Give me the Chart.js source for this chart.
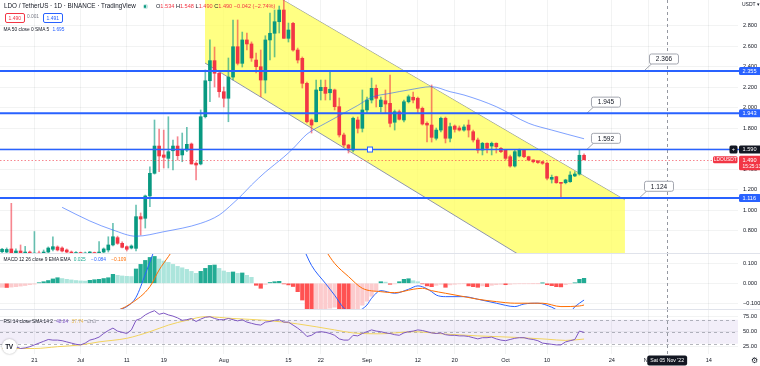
<!DOCTYPE html>
<html>
<head>
<meta charset="utf-8">
<title>LDO / TetherUS · 1D</title>
<script src="https://cdn.jsdelivr.net/npm/chart.js@4.4.1/dist/chart.umd.min.js"></script>
<style>
  html, body { margin: 0; padding: 0; background: #fff; }
  #wrap { position: relative; width: 760px; height: 366px; overflow: hidden;
          font-family: 'Liberation Sans', Arial, sans-serif; color: #131722; }
  #wrap canvas { position: absolute; left: 0; }
  .lg { position: absolute; white-space: nowrap; line-height: 1; }
  .dn { color: #F23645; }
  .bx { font-size: 5px; border: 1px solid; border-radius: 2px; padding: 1.5px 2.5px; background: #fff; }
  .sep { position: absolute; left: 0; width: 760px; height: 1px; background: #e0e3eb; }
</style>
</head>
<body>
<div id="wrap">
  <canvas id="priceCanvas" width="760" height="253" style="top:0"></canvas>
  <canvas id="macdCanvas" width="760" height="56" style="top:253px"></canvas>
  <canvas id="rsiCanvas" width="760" height="57" style="top:309px"></canvas>
  <div class="sep" style="top:253px"></div>
  <div class="sep" style="top:309px"></div>

  <div class="lg" style="left:4px;top:3px;font-size:6.3px">LDO / TetherUS · 1D · BINANCE · TradingView</div>
  <div style="position:absolute;left:142.5px;top:4px;width:5px;height:5px;border-radius:50%;background:rgba(8,153,129,0.25)">
    <div style="margin:1.2px;width:2.6px;height:2.6px;border-radius:50%;background:#089981"></div>
  </div>
  <div class="lg" style="left:156px;top:3.5px;font-size:5.6px">O<span class="dn">1.534</span> H<span class="dn">1.548</span> L<span class="dn">1.490</span> C<span class="dn">1.490</span> <span class="dn">−0.042 (−2.74%)</span></div>
  <div class="lg bx" style="left:5px;top:13px;border-color:#F23645;color:#F23645">1.490</div>
  <div class="lg" style="left:27px;top:15px;font-size:4.8px;color:#787b86">0.001</div>
  <div class="lg bx" style="left:43px;top:13px;border-color:#2962FF;color:#2962FF">1.491</div>
  <div class="lg" style="left:3.5px;top:27.5px;font-size:4.8px">MA 50 close 0 SMA 5 <span style="color:#2962FF;margin-left:2px">1.695</span></div>
  <div class="lg" style="left:742px;top:2px;font-size:5px">USDT ▾</div>

  <div class="lg" style="left:3.5px;top:257.6px;font-size:4.8px">MACD 12 26 close 9 EMA EMA <span style="color:#22AB94;margin-left:2px">0.025</span> <span style="color:#2962FF;margin-left:4px">−0.084</span> <span style="color:#FF6D00;margin-left:4px">−0.109</span></div>
  <div class="lg" style="left:3.5px;top:320.3px;font-size:4.8px">RSI 14 close SMA 14 2 <span style="color:#7E57C2;margin-left:2px">48.84</span> <span style="color:#E9B949;margin-left:2px">37.74</span> <span style="color:#787b86;margin-left:2px">∅ ∅</span></div>

  <div style="position:absolute;left:1.5px;top:338.5px;width:15px;height:15px;border-radius:50%;background:#fff;box-shadow:0 0 2px rgba(0,0,0,0.35);font:bold 6.5px 'Liberation Sans',Arial,sans-serif;line-height:15px;text-align:center;letter-spacing:-0.5px">TV</div>
  <div class="lg" style="left:751px;top:356.5px;font-size:8px;color:#131722">⚙</div>
</div>

<script>
// Days are counted from 1 Jul 2022 (day 0); the first candle is 14 Jun 2022.
const FIRST_DAY = -17;

const candleOpen = [
  0.593, 0.590, 0.620, 0.580, 0.600, 0.570, 0.590, 0.560, 0.580, 0.570,
  0.590, 0.617, 0.639, 0.629, 0.610, 0.590, 0.570, 0.585, 0.565, 0.580,
  0.585, 0.575, 0.590, 0.610, 0.659, 0.730, 0.675, 0.642, 0.629, 0.626,
  0.935, 0.919, 1.137, 1.358, 1.624, 1.537, 1.504, 1.578, 1.624, 1.537,
  1.585, 1.644, 1.456, 1.449, 1.910, 2.261, 2.457, 2.334, 2.154, 2.090,
  2.297, 2.593, 2.431, 2.659, 2.620, 2.463, 2.398, 2.268, 2.659, 2.724,
  2.837, 2.951, 2.675, 2.821, 2.561, 2.480, 2.236, 1.878, 1.861, 2.164,
  2.197, 2.144, 2.171, 2.008, 1.732, 1.634, 1.585, 1.878, 1.797, 1.976,
  2.073, 2.187, 2.008, 2.066, 2.041, 1.856, 1.959, 1.878, 2.056, 2.100,
  2.090, 1.992, 1.846, 1.829, 1.700, 1.780, 1.895, 1.700, 1.819, 1.800,
  1.780, 1.829, 1.764, 1.683, 1.585, 1.651, 1.624, 1.651, 1.602, 1.585,
  1.520, 1.429, 1.527, 1.585, 1.520, 1.488, 1.478, 1.471, 1.456, 1.300,
  1.325, 1.266, 1.266, 1.276, 1.332, 1.351, 1.534
];
const candleHigh = [
  0.625, 0.630, 1.065, 0.620, 0.659, 0.645, 0.600, 0.790, 0.600, 0.610,
  0.640, 0.739, 0.650, 0.640, 0.620, 0.600, 0.595, 0.590, 0.590, 0.595,
  0.590, 0.691, 0.630, 0.739, 0.870, 0.745, 0.690, 0.650, 0.660, 1.049,
  0.971, 1.146, 1.422, 1.878, 1.790, 1.780, 1.910, 1.683, 1.715, 1.751,
  1.807, 1.654, 1.470, 1.976, 2.366, 2.659, 2.590, 2.346, 2.200, 2.483,
  2.854, 2.854, 2.736, 2.727, 2.640, 2.532, 2.561, 2.700, 2.922, 2.951,
  2.990, 3.080, 2.824, 2.830, 2.580, 2.493, 2.249, 1.890, 2.268, 2.268,
  2.268, 2.346, 2.180, 2.093, 1.751, 1.640, 1.907, 1.907, 2.171, 2.102,
  2.288, 2.220, 2.102, 2.171, 2.317, 1.976, 1.976, 2.073, 2.122, 2.151,
  2.102, 2.005, 1.859, 2.220, 1.800, 1.907, 1.907, 1.849, 1.830, 1.820,
  1.830, 1.878, 1.780, 1.702, 1.660, 1.655, 1.663, 1.655, 1.610, 1.590,
  1.537, 1.585, 1.595, 1.590, 1.525, 1.490, 1.485, 1.475, 1.468, 1.341,
  1.330, 1.270, 1.300, 1.374, 1.374, 1.592, 1.548
];
const candleLow = [
  0.560, 0.570, 0.550, 0.560, 0.550, 0.550, 0.540, 0.540, 0.550, 0.560,
  0.570, 0.600, 0.600, 0.590, 0.580, 0.550, 0.560, 0.550, 0.550, 0.570,
  0.560, 0.560, 0.580, 0.590, 0.650, 0.665, 0.630, 0.600, 0.620, 0.600,
  0.756, 0.824, 1.032, 1.350, 1.374, 1.410, 1.410, 1.390, 1.488, 1.471,
  1.569, 1.449, 1.293, 1.440, 1.898, 2.056, 2.200, 2.102, 2.005, 1.861,
  2.268, 2.415, 2.395, 2.561, 2.450, 2.337, 2.105, 2.141, 2.463, 2.493,
  2.727, 2.675, 2.639, 2.550, 2.434, 2.190, 1.849, 1.751, 1.859, 2.073,
  2.073, 2.073, 1.976, 1.712, 1.615, 1.556, 1.566, 1.751, 1.761, 1.946,
  2.044, 2.005, 1.956, 1.946, 1.810, 1.780, 1.878, 1.859, 2.044, 2.044,
  1.946, 1.829, 1.663, 1.663, 1.683, 1.761, 1.654, 1.663, 1.760, 1.770,
  1.770, 1.712, 1.663, 1.556, 1.537, 1.556, 1.537, 1.556, 1.560, 1.488,
  1.419, 1.419, 1.517, 1.510, 1.480, 1.460, 1.455, 1.445, 1.293, 1.263,
  1.260, 1.117, 1.255, 1.270, 1.325, 1.340, 1.490
];
const candleClose = [
  0.617, 0.615, 0.580, 0.600, 0.570, 0.590, 0.560, 0.580, 0.570, 0.590,
  0.629, 0.642, 0.610, 0.600, 0.590, 0.570, 0.585, 0.565, 0.580, 0.585,
  0.575, 0.590, 0.620, 0.659, 0.739, 0.675, 0.636, 0.617, 0.649, 0.935,
  0.912, 1.137, 1.358, 1.624, 1.527, 1.514, 1.569, 1.624, 1.530, 1.585,
  1.641, 1.449, 1.439, 1.910, 2.261, 2.457, 2.334, 2.154, 2.090, 2.297,
  2.593, 2.431, 2.659, 2.620, 2.483, 2.398, 2.268, 2.659, 2.724, 2.837,
  2.951, 2.675, 2.756, 2.561, 2.463, 2.236, 1.861, 1.829, 2.171, 2.197,
  2.138, 2.178, 2.008, 1.732, 1.634, 1.602, 1.895, 1.797, 1.976, 2.073,
  2.187, 2.090, 2.073, 2.034, 1.846, 1.959, 1.885, 2.056, 2.105, 2.073,
  1.992, 1.839, 1.829, 1.709, 1.780, 1.895, 1.700, 1.813, 1.787, 1.780,
  1.810, 1.780, 1.683, 1.585, 1.651, 1.602, 1.651, 1.617, 1.569, 1.504,
  1.429, 1.569, 1.585, 1.520, 1.488, 1.471, 1.463, 1.456, 1.310, 1.319,
  1.266, 1.260, 1.293, 1.341, 1.351, 1.534, 1.490
];

// MA 50
const maDays   = [-4, 2, 7, 12, 18, 26, 30, 33, 35, 37, 40, 44, 46, 49, 53, 56, 60, 63, 67, 71, 76, 80, 83, 90, 97, 102, 109];
const maValues = [1.026, 0.893, 0.805, 0.744, 0.788, 0.870, 0.951, 1.065, 1.150, 1.244, 1.370, 1.517, 1.600, 1.740, 1.846, 1.920, 2.020, 2.100, 2.138, 2.171, 2.203, 2.154, 2.122, 2.008, 1.846, 1.780, 1.695];

// MACD 12 26 9
const macdHist = [
  -0.020, -0.021, -0.019, -0.017, -0.014, -0.011, -0.007, -0.004, 0.003, 0.008,
  0.014, 0.022, 0.028, 0.024, 0.020, 0.017, 0.014, 0.012, 0.011, 0.015,
  0.018, 0.020, 0.024, 0.028, 0.045, 0.040, 0.037, 0.035, 0.034, 0.072,
  0.095, 0.115, 0.130, 0.135, 0.122, 0.112, 0.105, 0.095, 0.085, 0.078,
  0.070, 0.060, 0.050, 0.060, 0.075, 0.090, 0.092, 0.075, 0.062, 0.055,
  0.057, 0.050, 0.052, 0.040, 0.030, -0.010, -0.025, -0.006, 0.004, 0.008,
  0.010, -0.003, -0.008, -0.016, -0.042, -0.084, -0.150, -0.160, -0.155, -0.145,
  -0.135, -0.125, -0.120, -0.150, -0.160, -0.165, -0.150, -0.130, -0.110, -0.090,
  -0.065, -0.040, 0.008, 0.006, -0.005, -0.003, 0.008, 0.020, 0.023, 0.013,
  0.008, -0.003, -0.013, -0.017, -0.010, -0.005, -0.020, -0.008, -0.005, -0.003,
  -0.002, -0.013, -0.017, -0.020, -0.013, -0.017, -0.010, -0.007, -0.005, -0.007,
  -0.005, -0.003, -0.002, -0.002, -0.002, -0.001, -0.001, 0.001, -0.007, -0.012,
  -0.017, -0.018, -0.007, -0.002, 0.002, 0.020, 0.025
];
const macdDays   = [1, 3, 6, 10, 12, 14, 16, 18, 30, 46, 48, 50, 53, 55, 57, 59, 60, 62, 63, 65, 68, 71, 73, 74, 76, 77, 79, 83, 86, 90, 94, 96, 99, 102, 104, 106, 107, 108, 109];
const macdValues = [-0.210, -0.165, -0.142, -0.117, -0.070, 0.045, 0.170, 0.300, 0.450, 0.300, 0.190, 0.090, 0.000, -0.060, -0.125, -0.151, -0.142, -0.109, -0.075, -0.037, -0.050, -0.030, -0.013, -0.017, -0.042, -0.059, -0.067, -0.067, -0.080, -0.100, -0.117, -0.104, -0.100, -0.120, -0.142, -0.142, -0.118, -0.100, -0.084];
const signalDays   = [4, 6, 11, 15, 17, 19, 20, 22, 35, 50, 53, 55, 58, 61, 65, 68, 72, 74, 76, 79, 83, 86, 90, 94, 97, 100, 104, 108, 109];
const signalValues = [-0.190, -0.160, -0.100, -0.017, 0.067, 0.134, 0.167, 0.220, 0.400, 0.280, 0.167, 0.100, 0.034, -0.025, -0.042, -0.047, -0.030, -0.025, -0.037, -0.050, -0.067, -0.080, -0.092, -0.100, -0.100, -0.100, -0.117, -0.114, -0.109];

// RSI 14 with SMA 14
const rsiValues = [
  25, 26, 28, 25, 22, 23, 25, 28, 31, 34,
  37, 36, 36, 35, 33, 31, 29, 28, 31, 36,
  38, 41, 47, 52, 56, 51, 49, 47, 53, 69,
  72, 78, 82, 85, 79, 81, 78, 76, 73, 69,
  70, 72, 67, 71, 74, 75, 72, 70, 70, 72,
  70, 68, 70, 66, 64, 62, 61, 66, 67, 69,
  70, 66, 66, 61, 56, 50, 42, 44, 49, 50,
  49, 47, 44, 38, 36, 36, 44, 43, 47, 50,
  53, 51, 50, 48, 47, 45, 44, 48, 50, 51,
  53, 52, 50, 48, 47, 48, 45, 44, 44, 43,
  43, 42, 40, 38, 40, 40, 41, 38, 36, 35,
  37, 39, 40, 40, 38, 37, 35, 31, 30, 29,
  28, 28, 33, 35, 37, 51, 48.84
];
const rsiSmaDays   = [-17, -10, -5, 0, 4, 10, 15, 19, 23, 27, 33, 40, 47, 55, 59, 65, 72, 79, 86, 94, 101, 105, 109];
const rsiSmaValues = [22, 22, 25, 28, 33, 39, 50, 61, 69, 75, 72, 69, 63, 53, 48, 46.5, 50, 46, 43, 40.6, 37.5, 35.5, 37.74];
const rsiBandLevels = [70, 50, 30];

// Drawings
const channelDays  = [26.93, 117.85];
const channelUpper = [3.494, 1.098];
const channelLower = [2.434, -0.067];
const hLevels = [2.355, 1.943, 1.590, 1.116];
const SELECTED_LEVEL = 2;           // the 1.590 line carries the handle and "+" button
const selectedHandleDay = 62.65;
const calloutDays   = [122.19, 109.63, 109.63, 121.11];
const calloutValues = [2.366, 1.945, 1.592, 1.124];
const lastPrice = 1.490;
const countdown = '15:25:13';

// Axes
const priceTicks = [0.8, 1.0, 1.2, 1.4, 1.6, 1.8, 2.0, 2.2, 2.4, 2.6, 2.8];
const macdTicks = [-0.1, 0, 0.1];
const rsiTicks = [25, 50, 75];
const tickDays   = [-10, 0, 10, 18, 31, 45, 52, 62, 73, 81, 92, 101, 115, 123, 136];
const tickLabels = ['21', 'Jul', '11', '19', 'Aug', '15', '22', 'Sep', '12', '20', 'Oct', '10', '24', 'Nov', '14'];
const crosshairDay = 127;
const crosshairLabel = "Sat 05 Nov '22";

[candleHigh, candleLow, candleClose, macdHist, rsiValues].forEach(a => {
  if (a.length !== candleOpen.length) throw new Error('series length mismatch: ' + a.length);
});

// ---- styling ----
const BLUE = '#2962FF';
const UP = '#089981', DOWN = '#F23645';
const UP_WICK = 'rgba(8,153,129,0.6)', DOWN_WICK = 'rgba(242,54,69,0.6)';
const GRID = 'rgba(42,46,57,0.06)';
const TEXT = '#131722';
const FONT = "'Liberation Sans', Arial, sans-serif";
const X_MIN = -17.45, X_MAX = 142.33;
const PRICE_MIN = 0.5805, PRICE_MAX = 3.0488;
const MACD_MIN = -0.1291, MACD_MAX = 0.1523;
const RSI_MIN = 12.83, RSI_MAX = 87.83;

Chart.defaults.font.family = FONT;
Chart.defaults.animation = false;

const minus = s => s.replace('-', '\u2212');

function xScale(showLabels) {
  return {
    type: 'linear', min: X_MIN, max: X_MAX, offset: false,
    afterBuildTicks: s => { s.ticks = tickDays.map(v => ({ value: v })); },
    afterFit: s => { s.height = showLabels ? 12 : 0; s.paddingLeft = 0; s.paddingRight = 0; },
    grid: { color: GRID, drawTicks: false, offset: false },
    border: { display: false },
    ticks: {
      display: showLabels, autoSkip: false, maxRotation: 0, padding: 3,
      color: TEXT, font: { size: 5.6 },
      callback: (v, i) => tickLabels[i]
    }
  };
}

function yScale(min, max, ticks, fmt) {
  return {
    type: 'linear', position: 'right', min: min, max: max,
    afterBuildTicks: s => { s.ticks = ticks.map(v => ({ value: v })); },
    afterFit: s => { s.width = 22; s.paddingTop = 0; s.paddingBottom = 0; },
    grid: { color: GRID, drawTicks: false },
    border: { display: false },
    ticks: { padding: 5, color: TEXT, font: { size: 5.6 }, callback: fmt }
  };
}

function roundRect(ctx, x, y, w, h, r) {
  ctx.beginPath();
  ctx.moveTo(x + r, y);
  ctx.arcTo(x + w, y, x + w, y + h, r);
  ctx.arcTo(x + w, y + h, x, y + h, r);
  ctx.arcTo(x, y + h, x, y, r);
  ctx.arcTo(x, y, x + w, y, r);
  ctx.closePath();
}

function hline(ctx, x0, x1, y) {
  ctx.beginPath(); ctx.moveTo(x0, y); ctx.lineTo(x1, y); ctx.stroke();
}

// dashed vertical crosshair, shared by all panes
const crosshair = {
  id: 'crosshair',
  afterDatasetsDraw(chart) {
    const { ctx, chartArea: a, scales: { x } } = chart;
    const cx = Math.round(x.getPixelForValue(crosshairDay)) + 0.5;
    ctx.save();
    ctx.strokeStyle = '#9598a1';
    ctx.lineWidth = 1;
    ctx.setLineDash([3, 3]);
    ctx.beginPath(); ctx.moveTo(cx, a.top); ctx.lineTo(cx, a.bottom); ctx.stroke();
    ctx.restore();
  }
};

// horizontal lines, callouts and price-scale labels
const priceDrawings = {
  id: 'priceDrawings',
  afterDatasetsDraw(chart) {
    const { ctx, chartArea: a, scales: { x, y } } = chart;
    ctx.save();
    // last price line
    ctx.strokeStyle = 'rgba(242,54,69,0.6)';
    ctx.lineWidth = 1;
    ctx.setLineDash([1.5, 2]);
    hline(ctx, a.left, a.right, Math.round(y.getPixelForValue(lastPrice)) + 0.5);
    ctx.setLineDash([]);

    // callouts
    ctx.font = '6.5px ' + FONT;
    ctx.textAlign = 'center';
    ctx.textBaseline = 'middle';
    calloutValues.forEach((v, i) => {
      const ax = x.getPixelForValue(calloutDays[i]);
      const ay = y.getPixelForValue(v);
      const bw = 29, bh = 10, bx = ax + 4, by = ay - 6.5 - bh;
      ctx.strokeStyle = '#a3a6af';
      ctx.lineWidth = 1;
      ctx.beginPath(); ctx.moveTo(ax, ay); ctx.lineTo(ax + 7, ay - 6.5); ctx.stroke();
      ctx.fillStyle = '#fff';
      roundRect(ctx, bx + 0.5, by + 0.5, bw, bh, 2);
      ctx.fill(); ctx.stroke();
      ctx.fillStyle = TEXT;
      ctx.fillText(v.toFixed(3), bx + bw / 2 + 0.5, by + bh / 2 + 1);
    });
    ctx.restore();
  },
  afterDraw(chart) {
    const { ctx, chartArea: a, scales: { x, y } } = chart;
    ctx.save();
    // horizontal line drawings run up to the price scale
    hLevels.forEach((v, i) => {
      ctx.strokeStyle = BLUE;
      ctx.lineWidth = i === SELECTED_LEVEL ? 1.5 : 2;
      hline(ctx, 0, a.right + 1, y.getPixelForValue(v));
    });
    // handle square on the selected line
    const hx = x.getPixelForValue(selectedHandleDay);
    const hy = y.getPixelForValue(hLevels[SELECTED_LEVEL]);
    ctx.fillStyle = '#fff';
    ctx.strokeStyle = BLUE;
    ctx.lineWidth = 1;
    ctx.fillRect(hx - 2.5, hy - 2.5, 5, 5);
    ctx.strokeRect(hx - 2.5, hy - 2.5, 5, 5);

    ctx.font = '5.6px ' + FONT;
    ctx.textBaseline = 'middle';
    ctx.textAlign = 'left';
    const lx = a.right + 1, lw = 22;
    hLevels.forEach((v, i) => {
      const yc = y.getPixelForValue(v);
      ctx.fillStyle = i === SELECTED_LEVEL ? TEXT : BLUE;
      roundRect(ctx, lx, yc - 4, lw, 8, 1.5); ctx.fill();
      ctx.fillStyle = '#fff';
      ctx.fillText(v.toFixed(3), lx + 3.5, yc + 0.4);
      if (i === SELECTED_LEVEL) {
        ctx.fillStyle = TEXT;
        roundRect(ctx, lx - 9.5, yc - 4, 8, 8, 1.5); ctx.fill();
        ctx.fillStyle = '#fff';
        ctx.textAlign = 'center';
        ctx.fillText('+', lx - 5.5, yc + 0.2);
        ctx.textAlign = 'left';
      }
    });
    // last price label with countdown and symbol tag
    const ly = y.getPixelForValue(lastPrice);
    ctx.fillStyle = DOWN;
    roundRect(ctx, lx, ly - 4, lw, 14.5, 1.5); ctx.fill();
    roundRect(ctx, a.right - 25, ly - 3.5, 24.5, 7, 1.5); ctx.fill();
    ctx.fillStyle = '#fff';
    ctx.fillText(lastPrice.toFixed(3), lx + 3.5, ly + 0.4);
    ctx.font = '4.8px ' + FONT;
    ctx.fillText(countdown, lx + 3.5, ly + 6.8);
    ctx.textAlign = 'center';
    ctx.fillText('LDOUSDT', a.right - 12.75, ly + 0.3);
    ctx.restore();
  }
};

// RSI band between 70 and 30
const rsiBand = {
  id: 'rsiBand',
  beforeDatasetsDraw(chart) {
    const { ctx, chartArea: a, scales: { y } } = chart;
    const top = y.getPixelForValue(rsiBandLevels[0]);
    const bottom = y.getPixelForValue(rsiBandLevels[2]);
    ctx.save();
    ctx.fillStyle = 'rgba(126,87,194,0.1)';
    ctx.fillRect(a.left, top, a.right - a.left, bottom - top);
    ctx.strokeStyle = 'rgba(120,123,134,0.55)';
    ctx.lineWidth = 1;
    ctx.setLineDash([3, 3]);
    rsiBandLevels.forEach(v => hline(ctx, a.left, a.right, Math.round(y.getPixelForValue(v)) + 0.5));
    ctx.restore();
  },
  afterDraw(chart) {
    const { ctx, chartArea: a, scales: { x } } = chart;
    const cx = x.getPixelForValue(crosshairDay);
    ctx.save();
    ctx.font = '5.2px ' + FONT;
    const w = ctx.measureText(crosshairLabel).width + 6;
    ctx.fillStyle = TEXT;
    roundRect(ctx, cx - w / 2, a.bottom + 1.5, w, 10, 2); ctx.fill();
    ctx.fillStyle = '#fff';
    ctx.textAlign = 'center';
    ctx.textBaseline = 'middle';
    ctx.fillText(crosshairLabel, cx, a.bottom + 6.8);
    ctx.restore();
  }
};

const candleDays = candleOpen.map((_, i) => FIRST_DAY + i);
const isUp = candleClose.map((c, i) => c >= candleOpen[i]);
const pts = (days, vals) => days.map((d, i) => ({ x: d, y: vals[i] }));

const baseOptions = {
  responsive: false,
  animation: false,
  events: [],
  layout: { padding: 0 },
  plugins: { legend: { display: false }, tooltip: { enabled: false } }
};

new Chart(document.getElementById('priceCanvas'), {
  type: 'bar',
  data: {
    datasets: [
      {
        type: 'line', data: pts(channelDays, channelUpper),
        borderColor: '#8f96ad', borderWidth: 1, pointRadius: 0, fill: false, order: 6
      },
      {
        type: 'line', data: pts(channelDays, channelLower),
        borderColor: '#8f96ad', borderWidth: 1, pointRadius: 0,
        fill: '-1', backgroundColor: 'rgba(255,255,90,0.75)', order: 5
      },
      {
        data: candleDays.map((d, i) => ({ x: d, y: [candleLow[i], candleHigh[i]] })),
        backgroundColor: isUp.map(u => (u ? UP_WICK : DOWN_WICK)),
        barThickness: 1, grouped: false, order: 3
      },
      {
        data: candleDays.map((d, i) => ({ x: d, y: [candleOpen[i], candleClose[i]] })),
        backgroundColor: isUp.map(u => (u ? UP : DOWN)),
        barThickness: 3, minBarLength: 1, grouped: false, order: 2
      },
      {
        type: 'line', data: pts(maDays, maValues),
        borderColor: 'rgba(41,98,255,0.6)', borderWidth: 1, pointRadius: 0,
        cubicInterpolationMode: 'monotone', order: 1
      }
    ]
  },
  options: Object.assign({}, baseOptions, {
    scales: {
      x: xScale(false),
      y: yScale(PRICE_MIN, PRICE_MAX, priceTicks, v => v.toFixed(3))
    }
  }),
  plugins: [crosshair, priceDrawings]
});

const histColors = macdHist.map((h, i) => {
  const prev = i > 0 ? macdHist[i - 1] : h;
  if (h >= 0) return h > prev ? '#22AB94' : '#ACE5DC';
  return h < prev ? '#FF5252' : '#FCCBCD';
});

new Chart(document.getElementById('macdCanvas'), {
  type: 'bar',
  data: {
    datasets: [
      {
        data: pts(candleDays, macdHist),
        backgroundColor: histColors, barThickness: 3.6, grouped: false, order: 3
      },
      {
        type: 'line', data: pts(macdDays, macdValues),
        borderColor: BLUE, borderWidth: 1, pointRadius: 0,
        cubicInterpolationMode: 'monotone', order: 2
      },
      {
        type: 'line', data: pts(signalDays, signalValues),
        borderColor: '#FF6D00', borderWidth: 1, pointRadius: 0,
        cubicInterpolationMode: 'monotone', order: 1
      }
    ]
  },
  options: Object.assign({}, baseOptions, {
    scales: {
      x: xScale(false),
      y: yScale(MACD_MIN, MACD_MAX, macdTicks, v => minus(v.toFixed(3)))
    }
  }),
  plugins: [crosshair]
});

new Chart(document.getElementById('rsiCanvas'), {
  type: 'line',
  data: {
    datasets: [
      {
        data: pts(candleDays, rsiValues),
        borderColor: '#7E57C2', borderWidth: 1, pointRadius: 0, order: 1
      },
      {
        data: pts(rsiSmaDays, rsiSmaValues),
        borderColor: '#F2D35E', borderWidth: 1, pointRadius: 0,
        cubicInterpolationMode: 'monotone', order: 2
      }
    ]
  },
  options: Object.assign({}, baseOptions, {
    scales: {
      x: xScale(true),
      y: yScale(RSI_MIN, RSI_MAX, rsiTicks, v => v.toFixed(2))
    }
  }),
  plugins: [rsiBand, crosshair]
});
</script>
</body>
</html>
